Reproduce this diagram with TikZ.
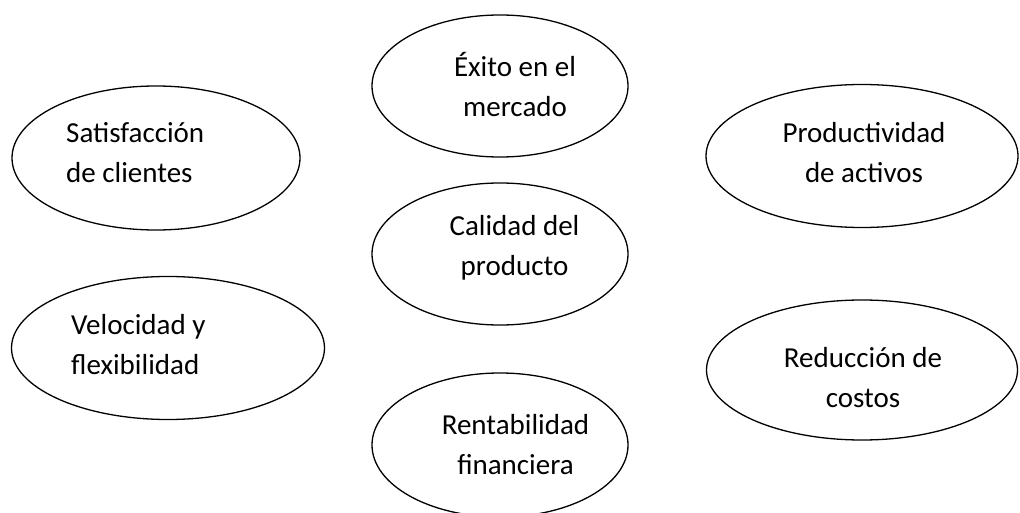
\documentclass[tikz,border=0pt]{standalone}
\usepackage{fontspec}
\setmainfont{Carlito}
\usetikzlibrary{shapes.geometric}
\tikzset{
  oval/.style={draw=black, line width=1.3pt, ellipse, inner sep=0pt, fill=none},
  lbl/.style={inner sep=0pt, font={\fontsize{29}{40}\selectfont}, text=black},
}
\begin{document}
\begin{tikzpicture}[x=1pt,y=-1pt]
\useasboundingbox (0,0) rectangle (1020,513);
\clip (0,0) rectangle (1020,513);
\fill[white] (0,0) rectangle (1020,513);
% ellipses
\node[oval, minimum width=256pt, minimum height=142pt] (exito) at (500,86) {};
\node[oval, minimum width=256pt, minimum height=142pt] (calidad) at (500,254) {};
\node[oval, minimum width=256pt, minimum height=144pt] (rent) at (500,445) {};
\node[oval, minimum width=288pt, minimum height=144pt] (satisf) at (156,158) {};
\node[oval, minimum width=313pt, minimum height=143pt] (veloc) at (168,348) {};
\node[oval, minimum width=312pt, minimum height=143pt] (product) at (862,156) {};
\node[oval, minimum width=311pt, minimum height=140pt] (reduc) at (862,370) {};
% labels
\node[lbl, align=center] (exito-t) at (515,85) {Éxito en el\\mercado};
\node[lbl, align=center] (calidad-t) at (514.5,248) {Calidad del\\producto};
\node[lbl, align=center] (rent-t) at (515.5,445) {Rentabilidad\\financiera};
\node[lbl, align=left, anchor=west] (satisf-t) at (66,153) {Satisfacción\\de clientes};
\node[lbl, align=left, anchor=west] (veloc-t) at (71,345) {Velocidad y\\flexibilidad};
\node[lbl, align=center] (product-t) at (864,153) {Productividad\\de activos};
\node[lbl, align=center] (reduc-t) at (863,378) {Reducción de\\costos};
\end{tikzpicture}
\end{document}
